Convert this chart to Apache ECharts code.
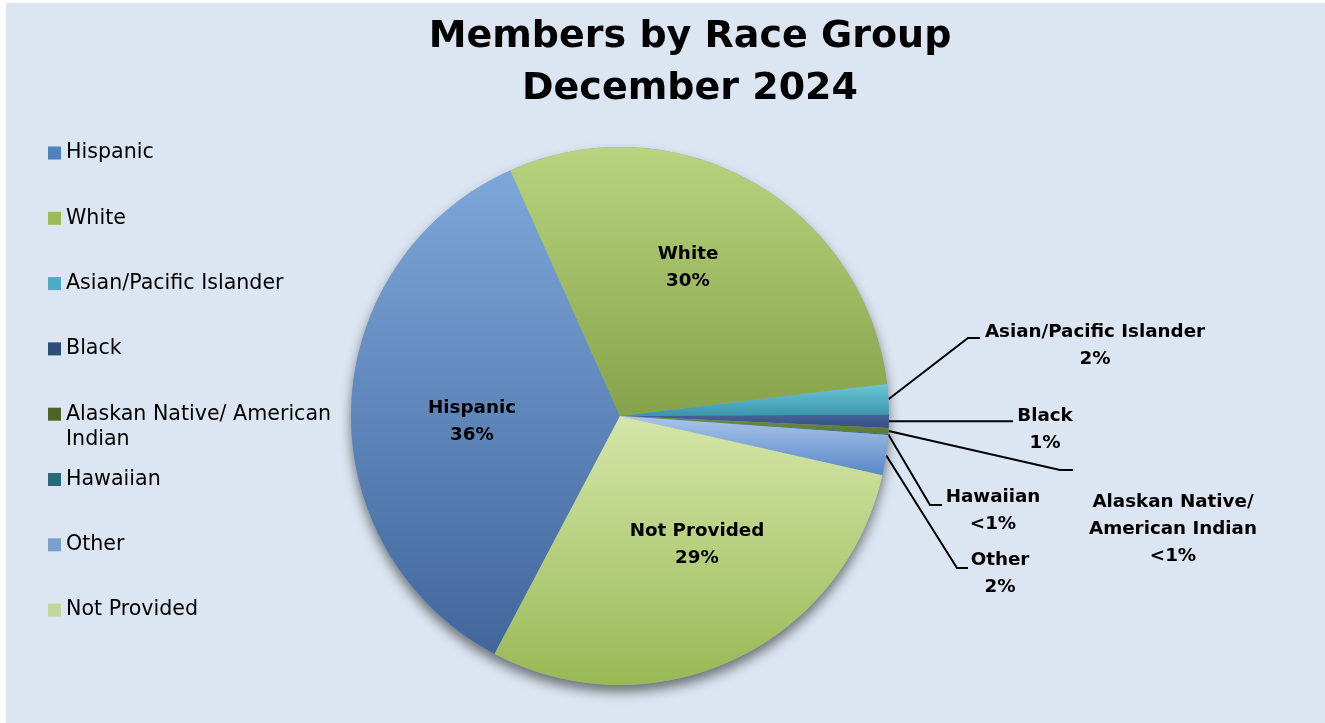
<!DOCTYPE html>
<html>
<head>
    <meta charset="UTF-8">
    <title>Members by Race Group</title>
    <script src="https://cdn.jsdelivr.net/npm/echarts@6/dist/echarts.min.js"></script>
    <style>
        html, body { margin: 0; background: #fff; }
        #container { position: absolute; left: 6px; top: 3px; width: 1319px; height: 720px; }
    </style>
</head>
<body>
<div id="container"></div>
<script>

    // data (share of members, %)
    var groups = ['Hispanic', 'White', 'Asian/Pacific Islander', 'Black',
        'Alaskan Native/ American Indian', 'Hawaiian', 'Other', 'Not Provided'];
    var shares = [35.6, 29.8, 1.8, 0.8, 0.35, 0.07, 2.4, 29.2];

    // slice colours: top / bottom of the gradient, and flat legend colour
    var topColors = ['#7da6d9', '#b8d47f', '#6cc6d9', '#46639a', '#71903f', '#33838f', '#aac6ec', '#d5e6a8'];
    var bottomColors = ['#41679c', '#86a34a', '#3a95ab', '#35507f', '#5b7731', '#276c77', '#5687c6', '#98b955'];
    var legendColors = ['#4f81bd', '#9bbb59', '#4bacc6', '#2c4d75', '#4f6228', '#276a7c', '#7ba0d0', '#c3d69b'];

    // page offset of the chart div
    var OX = 6, OY = 3;

    // where each label sits (page px); outside ones get an elbow leader line
    var labelSpots = [
        { x: 472, y: 422 },
        { x: 688, y: 268 },
        { x: 1095, y: 346, bend: [968, 338], end: 980 },
        { x: 1045, y: 430, bend: [1000, null], end: 1013 },
        { x: 1173, y: 529, bend: [1060, 470], end: 1073 },
        { x: 993, y: 511, bend: [930, 505], end: 942 },
        { x: 1000, y: 574, bend: [957, 568], end: 968 },
        { x: 697, y: 545 }
    ];

    var fontName = 'DejaVu Sans';

    var pieData = groups.map(function (g, i) {
        var inside = !labelSpots[i].bend;
        return {
            name: g,
            value: shares[i],
            itemStyle: {
                color: new echarts.graphic.LinearGradient(0, 0, 0, 1, [
                    { offset: 0, color: topColors[i] },
                    { offset: 1, color: bottomColors[i] }
                ])
            },
            label: { position: inside ? 'inside' : 'outside' },
            labelLine: { show: !inside }
        };
    });

    // one legend per item so the rows keep an even pitch
    var legends = groups.map(function (g, i) {
        var cy = 153 + i * 65.3 - OY;
        var twoLine = (i === 4);
        return {
            orient: 'vertical',
            left: 48 - OX,
            top: twoLine ? cy - 37.5 : cy - 12.5,
            padding: 0,
            itemWidth: 13,
            itemHeight: 13,
            itemGap: 0,
            selectedMode: false,
            icon: 'rect',
            textStyle: { fontFamily: fontName, fontSize: 20.6, color: '#000', lineHeight: 25 },
            formatter: function (name) {
                // blank first line keeps the marker on the first text row
                return twoLine ? ' \n' + name.replace('American ', 'American\n') : name;
            },
            data: [{ name: g, itemStyle: { color: legendColors[i] } }]
        };
    });

    var mychart = echarts.init(document.getElementById('container'));

    var option = {
        backgroundColor: '#dce6f2',
        title: {
            text: 'Members by Race Group\nDecember 2024',
            left: 690 - OX,
            top: 11 - OY,
            textAlign: 'center',
            padding: 0,
            textStyle: {
                fontFamily: fontName, fontSize: 38, fontWeight: 'bold', color: '#000', lineHeight: 52
            }
        },
        legend: legends,
        series: [{
            // underlay only for the drop shadow
            type: 'pie',
            silent: true,
            center: [620 - OX, 416 - OY],
            radius: 269,
            label: { show: false },
            labelLine: { show: false },
            itemStyle: {
                color: '#8fa0b8',
                shadowBlur: 12, shadowOffsetY: 7, shadowColor: 'rgba(0,0,0,0.5)'
            },
            data: [{ value: 1, name: '' }]
        }, {
            type: 'pie',
            center: [620 - OX, 416 - OY],
            radius: 269,
            startAngle: 242.2,
            clockwise: true,
            avoidLabelOverlap: false,
            minAngle: 0,
            label: {
                show: true,
                fontFamily: fontName,
                fontSize: 18.3,
                fontWeight: 'bold',
                color: '#000',
                lineHeight: 27,
                align: 'center',
                formatter: function (p) {
                    var r = Math.round(p.percent);
                    var pct = r < 1 ? '<1%' : r + '%';
                    return p.name.replace('/ ', '/\n') + '\n' + pct;
                }
            },
            labelLine: {
                show: true,
                length: 10,
                length2: 10,
                lineStyle: { color: '#000', width: 2 }
            },
            labelLayout: function (p) {
                var s = labelSpots[p.dataIndex];
                var out = { x: s.x - OX, y: s.y - OY, align: 'center', verticalAlign: 'middle' };
                if (s.bend && p.labelLinePoints) {
                    var a = p.labelLinePoints[0];
                    var by = s.bend[1] == null ? a[1] : s.bend[1] - OY;
                    out.labelLinePoints = [a, [s.bend[0] - OX, by], [s.end - OX, by]];
                }
                return out;
            },
            data: pieData
        }]
    };

    mychart.setOption(option);

</script>
</body>
</html>
